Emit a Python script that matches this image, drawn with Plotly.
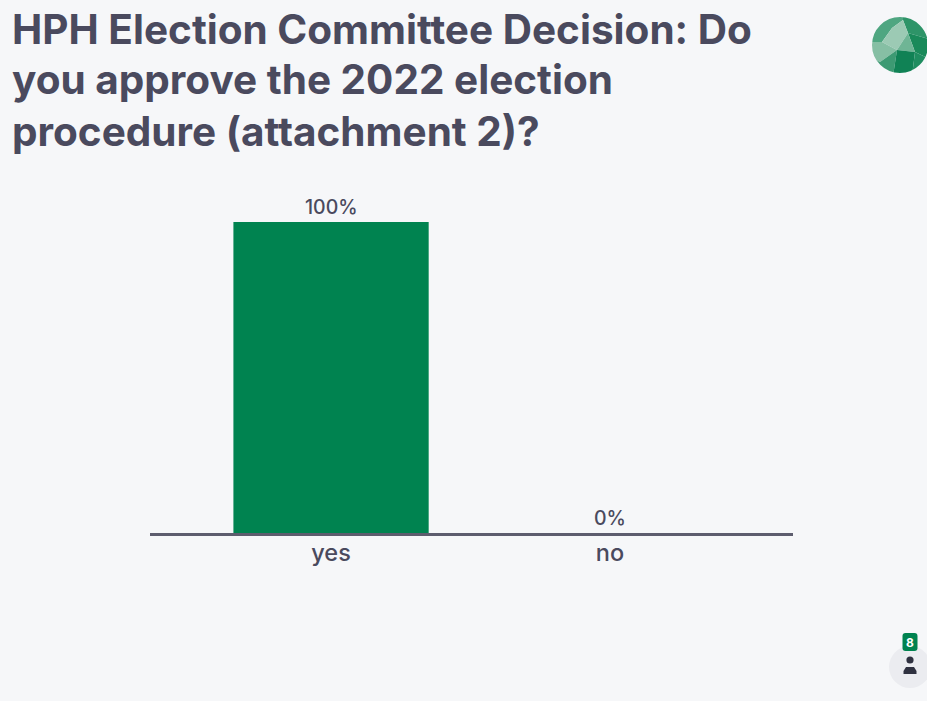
import plotly.graph_objects as go

categories = ["yes", "no"]
values = [100, 0]
value_labels = ["100%", "0%"]
title_lines = [
    "HPH Election Committee Decision: Do",
    "you approve the 2022 election",
    "procedure (attachment 2)?",
]
participants = "8"

W, H = 927, 701
BG = "#f6f7f9"
INK = "#4a4a5e"
GREEN = "#008350"
FONT = "Inter, Lato, sans-serif"

# Plot area edges in page pixels
LEFT, RIGHT, TOP, BOTTOM = 150, 793, 222, 533


def px(x):
    return (x - LEFT) / (RIGHT - LEFT)


def py(y):
    return (BOTTOM - y) / (BOTTOM - TOP)


def poly(points, color):
    path = "M" + "L".join(f"{px(x):.5f},{py(y):.5f}" for x, y in points) + "Z"
    return dict(type="path", xref="paper", yref="paper", path=path,
                fillcolor=color, line=dict(width=0), layer="above")


def disc(cx, cy, r, color):
    return dict(type="circle", xref="paper", yref="paper",
                x0=px(cx - r), x1=px(cx + r), y0=py(cy + r), y1=py(cy - r),
                fillcolor=color, line=dict(width=0), layer="above")


def rounded_rect(x0, y0, x1, y1, r, color):
    p = lambda x, y: f"{px(x):.5f},{py(y):.5f}"
    path = (
        f"M{p(x0 + r, y0)}L{p(x1 - r, y0)}Q{p(x1, y0)} {p(x1, y0 + r)}"
        f"L{p(x1, y1 - r)}Q{p(x1, y1)} {p(x1 - r, y1)}"
        f"L{p(x0 + r, y1)}Q{p(x0, y1)} {p(x0, y1 - r)}"
        f"L{p(x0, y0 + r)}Q{p(x0, y0)} {p(x0 + r, y0)}Z"
    )
    return dict(type="path", xref="paper", yref="paper", path=path,
                fillcolor=color, line=dict(width=0), layer="above")


# Faceted gem logo, centre (900, 45), radius 28; facets overrun the rim and
# a background-coloured ring trims them to a circle
GEM_X, GEM_Y, GEM_R = 900, 45, 28
gem_facets = [
    ([(880, 12), (903, 12), (903, 20), (892, 28), (882, 42), (868, 42)], "#4fa681"),
    ([(903, 12), (932, 16), (932, 40), (908, 33), (903, 20)], "#2e9468"),
    ([(903, 20), (908, 33), (897, 50), (882, 42), (892, 28)], "#9ccab4"),
    ([(908, 33), (932, 40), (932, 60), (915, 52)], "#1a8a5a"),
    ([(908, 33), (915, 52), (897, 50)], "#6fb595"),
    ([(868, 42), (882, 42), (897, 50), (880, 62), (868, 56)], "#86bfa4"),
    ([(868, 56), (880, 62), (897, 50), (893, 76), (874, 70)], "#3d9a73"),
    ([(897, 50), (915, 52), (912, 76), (893, 76)], "#108255"),
    ([(915, 52), (932, 60), (932, 70), (912, 76)], "#1f8d60"),
]

fig = go.Figure(
    go.Bar(
        x=categories,
        y=values,
        width=0.7,
        marker=dict(color=GREEN, line=dict(width=0)),
        cliponaxis=False,
    )
)

shapes = [poly(pts, col) for pts, col in gem_facets]
gem_ring = disc(GEM_X, GEM_Y, GEM_R + 7, "rgba(0,0,0,0)")
gem_ring["line"] = dict(color=BG, width=14)
shapes.append(gem_ring)

# Participant badge and person glyph
shapes += [
    disc(910, 667, 21, "#ebecf0"),
    rounded_rect(902.5, 633, 917.5, 651, 3, GREEN),
    disc(910, 660, 3.6, "#2f3140"),
    poly([(903.5, 674), (903.5, 671), (906, 667), (914, 667), (916.5, 671), (916.5, 674)], "#2f3140"),
]

annotations = [
    dict(text=line, xref="paper", yref="paper", x=px(12), y=py(29 + i * 51),
         xanchor="left", yanchor="middle", showarrow=False, xshift=-2,
         font=dict(family="Inter, sans-serif", size=40.5, color=INK, weight=700))
    for i, line in enumerate(title_lines)
]
annotations.append(
    dict(text=f"<b>{participants}</b>", xref="paper", yref="paper", x=px(910), y=py(642),
         xanchor="center", yanchor="middle", showarrow=False,
         font=dict(family="Inter, sans-serif", size=12, color="white"))
)
# Value labels sit just above each bar
for cat, val, label in zip(categories, values, value_labels):
    annotations.append(
        dict(text=label, x=cat, y=val, xref="x", yref="y",
             xanchor="center", yanchor="middle", showarrow=False,
             yshift=15,
             font=dict(family=FONT, size=19.5, color=INK, weight=500))
    )

fig.update_layout(
    width=W,
    height=H,
    margin=dict(l=LEFT, r=W - RIGHT, t=TOP, b=H - BOTTOM, autoexpand=False),
    paper_bgcolor=BG,
    plot_bgcolor=BG,
    showlegend=False,
    shapes=shapes,
    annotations=annotations,
    xaxis=dict(
        type="category",
        range=[-0.649, 1.656],
        showline=True,
        linecolor="#5d5d6e",
        linewidth=2.5,
        showgrid=False,
        ticks="",
        ticklabelstandoff=-3,
        tickfont=dict(family=FONT, size=23.5, color=INK, weight=500),
        fixedrange=True,
    ),
    yaxis=dict(range=[0, 100], visible=False, fixedrange=True),
)

fig.write_html("out.html", config=dict(displayModeBar=False))
